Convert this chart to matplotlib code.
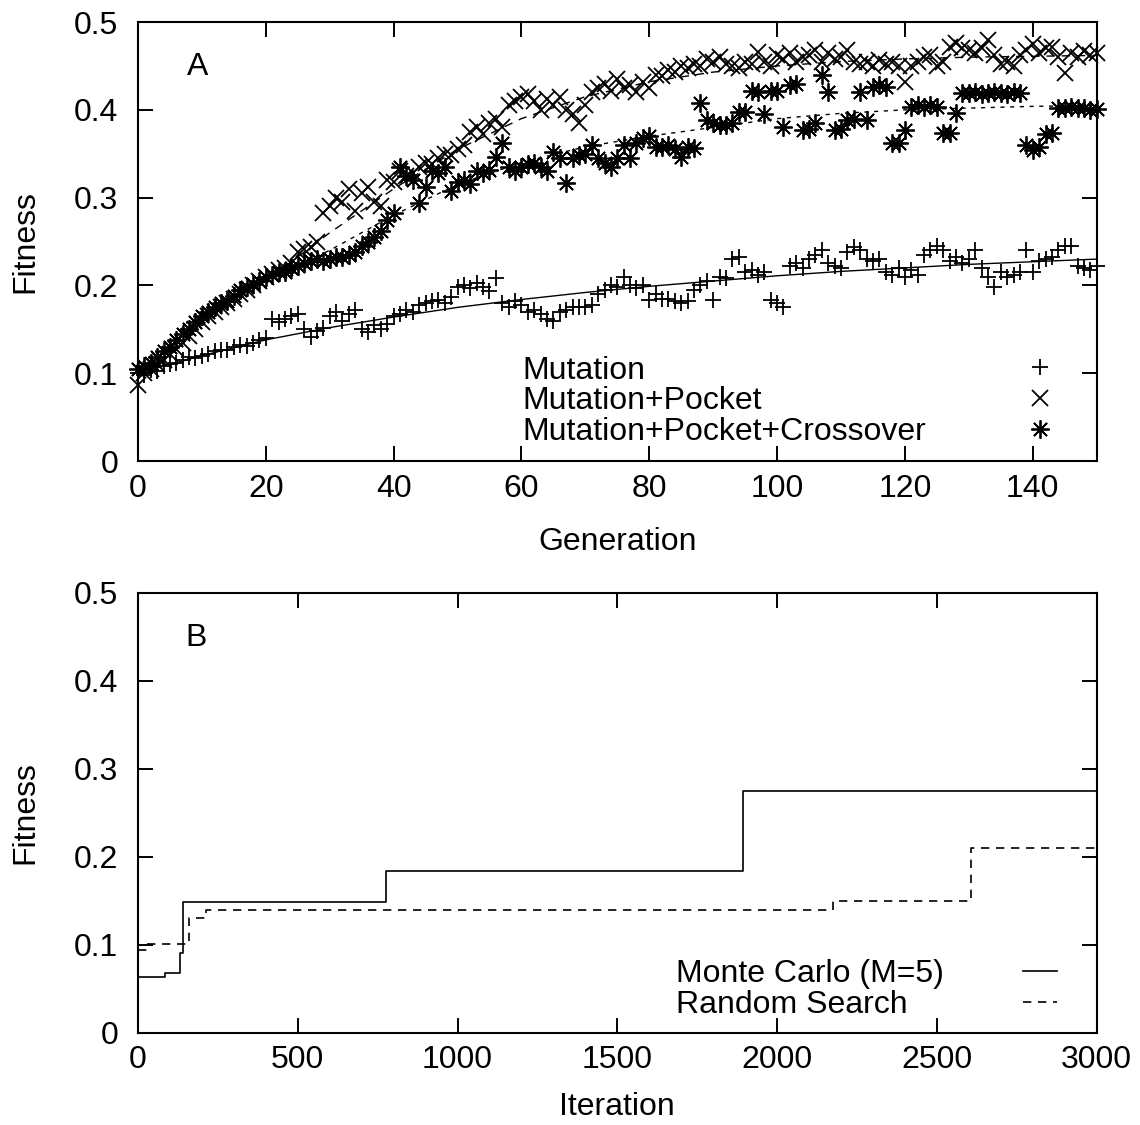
import matplotlib

matplotlib.use("Agg")

import matplotlib.pyplot as plt
import numpy as np
from matplotlib.lines import Line2D

plt.rcParams["font.family"] = ["Liberation Sans", "DejaVu Sans"]

# panel A: best fitness per generation
GENERATIONS = np.arange(151)

MUTATION = [
    0.100, 0.098, 0.104, 0.102, 0.108, 0.110, 0.112, 0.115, 0.118, 0.117,
    0.120, 0.122, 0.125, 0.127, 0.126, 0.130, 0.132, 0.131, 0.135, 0.138,
    0.140, 0.162, 0.158, 0.162, 0.165, 0.168, 0.150, 0.141, 0.148, 0.152,
    0.165, 0.170, 0.160, 0.168, 0.172, 0.150, 0.147, 0.155, 0.150, 0.156,
    0.165, 0.168, 0.172, 0.170, 0.178, 0.180, 0.182, 0.183, 0.180, 0.187,
    0.198, 0.200, 0.197, 0.203, 0.198, 0.194, 0.208, 0.180, 0.175, 0.182,
    0.178, 0.170, 0.172, 0.168, 0.162, 0.160, 0.170, 0.172, 0.175, 0.176,
    0.175, 0.178, 0.190, 0.195, 0.200, 0.198, 0.210, 0.200, 0.197, 0.200,
    0.183, 0.190, 0.185, 0.185, 0.182, 0.180, 0.182, 0.195, 0.200, 0.205,
    0.183, 0.210, 0.208, 0.230, 0.232, 0.215, 0.218, 0.212, 0.215, 0.183,
    0.180, 0.176, 0.222, 0.225, 0.220, 0.230, 0.235, 0.240, 0.225, 0.222,
    0.220, 0.238, 0.244, 0.240, 0.230, 0.228, 0.230, 0.215, 0.212, 0.220,
    0.210, 0.218, 0.212, 0.235, 0.240, 0.245, 0.240, 0.228, 0.232, 0.225,
    0.230, 0.240, 0.220, 0.210, 0.198, 0.215, 0.210, 0.212, 0.215, 0.240,
    0.215, 0.228, 0.230, 0.232, 0.240, 0.245, 0.245, 0.222, 0.220, 0.218,
    0.222,
]

POCKET = [
    0.087, 0.100, 0.105, 0.110, 0.115, 0.122, 0.128, 0.135, 0.142, 0.150,
    0.158, 0.165, 0.170, 0.176, 0.180, 0.185, 0.190, 0.195, 0.200, 0.205,
    0.210, 0.213, 0.218, 0.220, 0.225, 0.238, 0.242, 0.244, 0.250, 0.282,
    0.290, 0.300, 0.295, 0.310, 0.285, 0.305, 0.312, 0.295, 0.290, 0.320,
    0.318, 0.330, 0.325, 0.328, 0.335, 0.340, 0.338, 0.345, 0.350, 0.348,
    0.355, 0.360, 0.375, 0.380, 0.372, 0.385, 0.390, 0.380, 0.405, 0.410,
    0.415, 0.418, 0.410, 0.400, 0.412, 0.405, 0.415, 0.400, 0.395, 0.385,
    0.405, 0.420, 0.425, 0.430, 0.422, 0.435, 0.425, 0.428, 0.420, 0.432,
    0.425, 0.440, 0.438, 0.445, 0.443, 0.450, 0.448, 0.452, 0.450, 0.458,
    0.455, 0.460, 0.452, 0.450, 0.448, 0.455, 0.452, 0.466, 0.455, 0.450,
    0.462, 0.458, 0.465, 0.455, 0.460, 0.462, 0.468, 0.455, 0.465, 0.458,
    0.460, 0.468, 0.455, 0.452, 0.455, 0.450, 0.457, 0.452, 0.455, 0.450,
    0.432, 0.450, 0.455, 0.460, 0.462, 0.450, 0.455, 0.472, 0.476, 0.470,
    0.468, 0.465, 0.470, 0.480, 0.462, 0.452, 0.455, 0.450, 0.462, 0.468,
    0.475, 0.465, 0.470, 0.472, 0.460, 0.442, 0.465, 0.460, 0.467, 0.462,
    0.465,
]

CROSSOVER = [
    0.105, 0.108, 0.112, 0.118, 0.125, 0.130, 0.138, 0.145, 0.150, 0.158,
    0.165, 0.170, 0.175, 0.180, 0.182, 0.188, 0.195, 0.198, 0.202, 0.205,
    0.210, 0.212, 0.215, 0.215, 0.220, 0.222, 0.225, 0.228, 0.230, 0.228,
    0.230, 0.232, 0.232, 0.235, 0.238, 0.245, 0.250, 0.255, 0.262, 0.275,
    0.282, 0.335, 0.325, 0.320, 0.294, 0.312, 0.330, 0.328, 0.335, 0.308,
    0.318, 0.320, 0.315, 0.330, 0.328, 0.332, 0.346, 0.362, 0.335, 0.330,
    0.335, 0.338, 0.340, 0.335, 0.330, 0.352, 0.345, 0.317, 0.345, 0.348,
    0.350, 0.360, 0.345, 0.340, 0.335, 0.345, 0.360, 0.345, 0.362, 0.368,
    0.370, 0.358, 0.358, 0.360, 0.355, 0.346, 0.358, 0.356, 0.408, 0.388,
    0.385, 0.383, 0.383, 0.385, 0.397, 0.398, 0.422, 0.420, 0.395, 0.422,
    0.422, 0.380, 0.428, 0.430, 0.377, 0.378, 0.385, 0.440, 0.420, 0.377,
    0.378, 0.388, 0.390, 0.420, 0.388, 0.426, 0.428, 0.426, 0.362, 0.362,
    0.377, 0.403, 0.405, 0.403, 0.405, 0.403, 0.374, 0.374, 0.396, 0.419,
    0.419, 0.420, 0.418, 0.419, 0.420, 0.419, 0.418, 0.420, 0.419, 0.360,
    0.354, 0.358, 0.372, 0.374, 0.402, 0.402, 0.403, 0.402, 0.402, 0.400,
    0.401,
]

# fitted curves, read at every 10 generations
FIT_GEN = [0, 10, 20, 30, 40, 50, 60, 70, 80, 90, 100, 110, 120, 130, 140, 150]
FIT_MUTATION = [0.100, 0.120, 0.138, 0.152, 0.164, 0.175, 0.184, 0.192,
                0.199, 0.205, 0.211, 0.216, 0.220, 0.224, 0.227, 0.230]
FIT_POCKET = [0.100, 0.155, 0.205, 0.260, 0.310, 0.355, 0.390, 0.415,
              0.432, 0.443, 0.450, 0.455, 0.458, 0.460, 0.461, 0.462]
FIT_CROSSOVER = [0.100, 0.160, 0.205, 0.240, 0.280, 0.315, 0.340, 0.358,
                 0.370, 0.380, 0.390, 0.396, 0.400, 0.402, 0.404, 0.405]

LABELS_A = ["Mutation", "Mutation+Pocket", "Mutation+Pocket+Crossover"]

# panel B: step traces
MC_ITER = [0, 84, 131, 140, 776, 1893, 3000]
MC_FIT = [0.064, 0.068, 0.091, 0.149, 0.184, 0.275, 0.275]
RS_ITER = [0, 28, 160, 212, 2175, 2608, 3000]
RS_FIT = [0.094, 0.101, 0.131, 0.140, 0.150, 0.210, 0.210]

LABELS_B = ["Monte Carlo (M=5)", "Random Search"]

FS = 23
MS = 12
MEW = 1.3
STAR = (8, 2, 0)


def style_axes(ax, xlim, xticks):
    ax.set_xlim(*xlim)
    ax.set_ylim(0, 0.5)
    ax.set_xticks(xticks)
    ax.set_yticks([0, 0.1, 0.2, 0.3, 0.4, 0.5])
    ax.set_yticklabels(["0", "0.1", "0.2", "0.3", "0.4", "0.5"])
    ax.tick_params(direction="in", length=11, width=1.4, top=True, right=True,
                   labelsize=FS, pad=9)
    ax.tick_params(axis="y", pad=14)
    for sp in ax.spines.values():
        sp.set_linewidth(1.5)
    ax.set_ylabel("Fitness", fontsize=FS, labelpad=24)


def gnuplot_key(ax, handles, labels, text_x, key_x, top, handlelength):
    """Left-aligned key texts with the samples in a column to the right."""
    common = dict(loc="upper left", frameon=False, fontsize=FS, borderpad=0,
                  borderaxespad=0, labelspacing=0.02)
    blanks = [Line2D([], [], ls="none") for _ in labels]
    text_key = ax.legend(blanks, labels, bbox_to_anchor=(text_x, top),
                         handlelength=0, handletextpad=0, **common)
    ax.add_artist(text_key)
    ax.legend(handles, [""] * len(handles), bbox_to_anchor=(key_x, top),
              handlelength=handlelength, handletextpad=0, **common)


fig = plt.figure(figsize=(11.4, 11.25), dpi=100)
ax_a = fig.add_axes([0.121, 0.5902, 0.841, 0.3902])
ax_b = fig.add_axes([0.121, 0.0818, 0.841, 0.3911])

# ---- panel A
ax_a.plot(FIT_GEN, FIT_MUTATION, color="black", lw=1.0)
ax_a.plot(FIT_GEN, FIT_POCKET, color="black", lw=1.0, ls=(0, (6, 5)))
ax_a.plot(FIT_GEN, FIT_CROSSOVER, color="black", lw=1.0, ls=(0, (3, 4)))

h_mut, = ax_a.plot(GENERATIONS, MUTATION, ls="none", marker="+", ms=MS,
                   mew=MEW, color="black", clip_on=False)
h_poc, = ax_a.plot(GENERATIONS, POCKET, ls="none", marker="x", ms=MS * 0.95,
                   mew=MEW, color="black", clip_on=False)
h_cro, = ax_a.plot(GENERATIONS, CROSSOVER, ls="none", marker=STAR, ms=MS * 1.1,
                   mew=MEW, color="black", clip_on=False)

style_axes(ax_a, (0, 150), range(0, 141, 20))
ax_a.set_xlabel("Generation", fontsize=FS, labelpad=17)
ax_a.text(0.0626, 0.897, "A", transform=ax_a.transAxes, fontsize=FS,
          ha="center", va="center")
gnuplot_key(ax_a, [h_mut, h_poc, h_cro], LABELS_A, 0.401, 0.924, 0.24, 1.0)

# ---- panel B
h_mc, = ax_b.step(MC_ITER, MC_FIT, where="post", color="black", lw=1.2)
h_rs, = ax_b.step(RS_ITER, RS_FIT, where="post", color="black", lw=1.2,
                  ls=(0, (5, 4)))

style_axes(ax_b, (0, 3000), range(0, 3001, 500))
ax_b.set_xlabel("Iteration", fontsize=FS, labelpad=12)
ax_b.text(0.061, 0.898, "B", transform=ax_b.transAxes, fontsize=FS,
          ha="center", va="center")
gnuplot_key(ax_b, [h_mc, h_rs], LABELS_B, 0.561, 0.923, 0.167, 1.06)

fig.savefig("out.png", dpi=100)
plt.close(fig)
